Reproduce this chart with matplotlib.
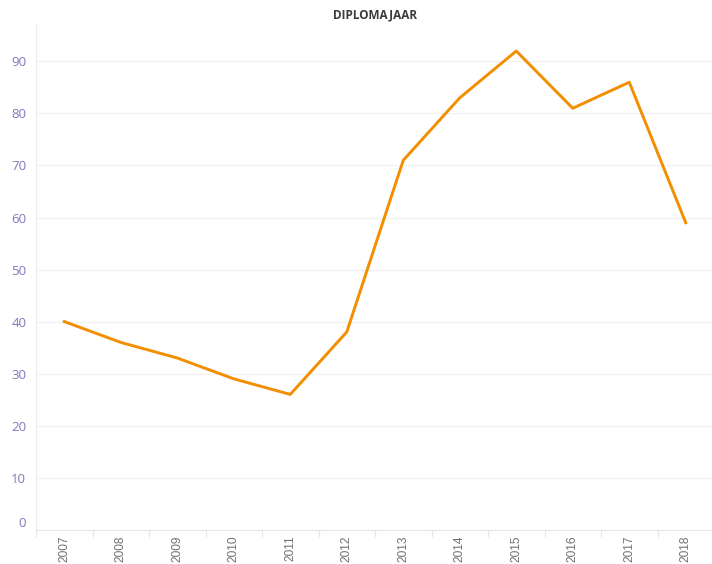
import matplotlib
matplotlib.use("Agg")
import matplotlib.pyplot as plt
import matplotlib.transforms as mtransforms
from matplotlib.ticker import FixedLocator
import numpy as np

years = ["2007", "2008", "2009", "2010", "2011", "2012", "2013", "2014", "2015", "2016", "2017", "2018"]
values = [40, 36, 33, 29, 26, 38, 71, 83, 92, 81, 86, 59]
yticks = [0, 10, 20, 30, 40, 50, 60, 70, 80, 90]

plt.rcParams['font.family'] = ['Open Sans', 'DejaVu Sans']

fig = plt.figure(figsize=(7.12, 5.64), dpi=100)
ax = fig.add_axes([36/712, (564-529.7)/564, 678/712, (529.7-25)/564])

x = np.arange(len(years))
ax.plot(x, values, color="#F28E00", lw=2.1, solid_joinstyle="round", zorder=3, clip_on=False)

ax.set_xlim(-0.5, len(years) - 0.5)
ax.set_ylim(0, 97)

ax.set_yticks(yticks)
ax.set_yticklabels([str(v) for v in yticks])
ax.tick_params(axis='y', length=0, pad=7, labelsize=9.5, labelcolor="#8078BC")
ax.grid(axis='y', color="#F0F0F0", lw=0.8)

ax.set_xticks(x)
ax.set_xticklabels(years, rotation=90, fontsize=8.6, color="#707070", va="top", ha="center",
                   family=["Liberation Sans", "DejaVu Sans"])
ax.tick_params(axis='x', which='major', length=0, pad=4)
ax.xaxis.set_minor_locator(FixedLocator(np.arange(-0.5, len(years), 1.0)))
ax.tick_params(axis='x', which='minor', length=5, color="#E6E6E6", width=0.8)

for s in ["top", "right"]:
    ax.spines[s].set_visible(False)
ax.spines["left"].set_color("#EBEBEB")
ax.spines["bottom"].set_color("#E6E6E6")
ax.spines["left"].set_linewidth(0.8)
ax.spines["bottom"].set_linewidth(0.8)
ax.set_axisbelow(True)

# Zero label sits slightly above the axis line
lbl0 = ax.get_yticklabels()[0]
lbl0.set_transform(lbl0.get_transform() + mtransforms.ScaledTranslation(0, 8/100, fig.dpi_scale_trans))

fig.text(375/712, 1 - 15/564, "DIPLOMAJAAR", ha="center", va="center",
         fontsize=8.5, fontweight="bold", color="#3A3A3A")

fig.savefig("out.png", dpi=100)
